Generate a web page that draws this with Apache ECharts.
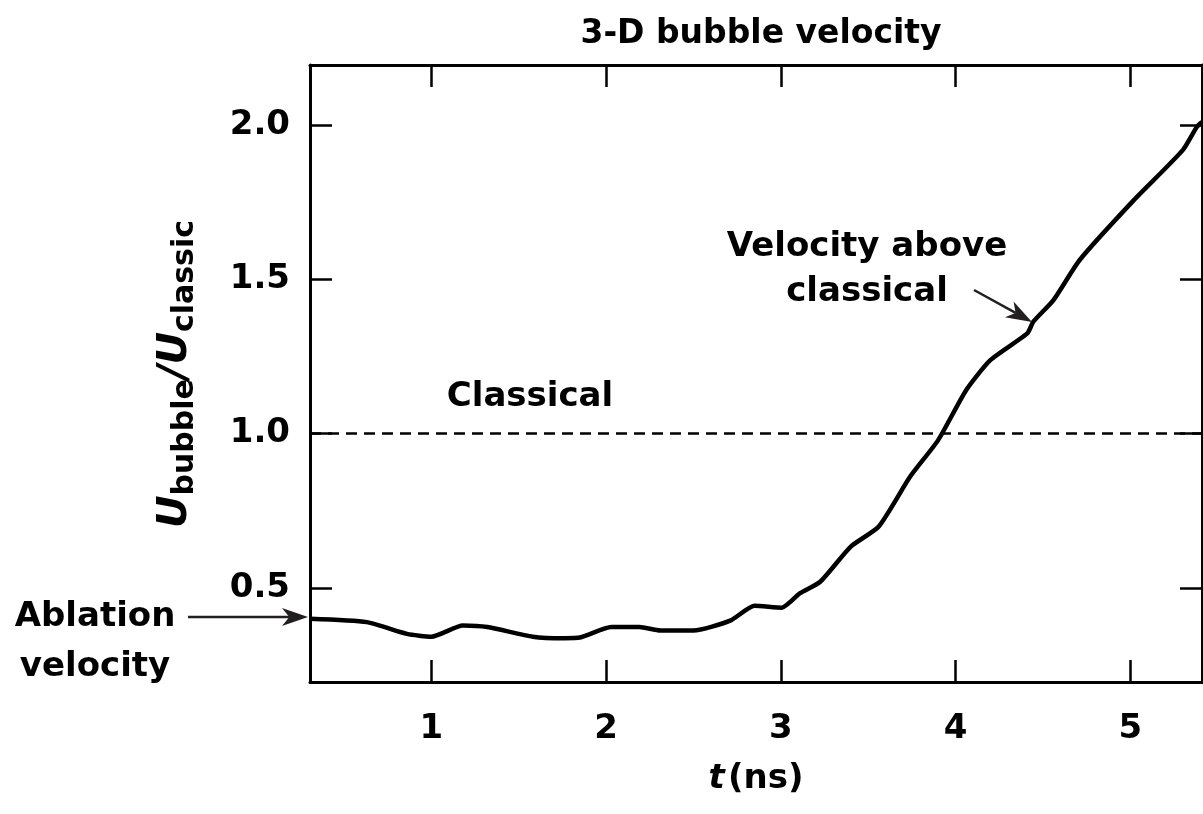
<!DOCTYPE html>
<html>
<head>
<meta charset="utf-8">
<script src="https://cdn.jsdelivr.net/npm/echarts@6/dist/echarts.min.js"></script>
<style>html,body{margin:0;padding:0;background:#fff}#c{width:1203px;height:814px}</style>
</head>
<body>
<div id="c"></div>
<script>
// time (ns)
var tValues = [0.305, 0.63, 0.86, 1.0, 1.18, 1.32, 1.58, 1.76, 1.85, 2.03, 2.19, 2.31, 2.50, 2.71, 2.85, 3.005, 3.11, 3.225, 3.40, 3.56, 3.74, 3.90, 4.06, 4.20, 4.41, 4.445, 4.56, 4.71, 5.02, 5.30, 5.38, 5.41];
// U_bubble / U_classic
var velocityRatio = [0.40, 0.389, 0.351, 0.342, 0.378, 0.373, 0.342, 0.337, 0.339, 0.373, 0.373, 0.362, 0.362, 0.394, 0.442, 0.436, 0.483, 0.52, 0.634, 0.699, 0.861, 0.979, 1.141, 1.239, 1.325, 1.363, 1.433, 1.563, 1.757, 1.919, 1.994, 2.01];
var classicalLevel = 1.0;
var xTicks = [1, 2, 3, 4, 5];
var yTicks = [0.5, 1.0, 1.5, 2.0];
var xRange = [0.305, 5.41];
var yRange = [0.195, 2.195];

var FONT = '"DejaVu Sans", "Liberation Sans", Arial, sans-serif';
var seriesData = tValues.map(function (t, i) { return [t, velocityRatio[i]]; });

var chart = echarts.init(document.getElementById('c'), null, {renderer: 'canvas'});

var axisLine = {show: true, lineStyle: {color: '#000', width: 3}};
function tickCfg(vals) {
  return {show: true, inside: true, length: 22, customValues: vals, lineStyle: {color: '#000', width: 2.5}};
}

function arrow(x1, y1, x2, y2) {
  var ang = Math.atan2(y2 - y1, x2 - x1);
  var L = 26, W = 9;
  var bx = x2 - L * Math.cos(ang), by = y2 - L * Math.sin(ang);
  var px = -Math.sin(ang), py = Math.cos(ang);
  var notchX = x2 - L * 0.72 * Math.cos(ang), notchY = y2 - L * 0.72 * Math.sin(ang);
  return [
    {type: 'line', shape: {x1: x1, y1: y1, x2: notchX, y2: notchY}, style: {stroke: '#231f20', lineWidth: 2.5}},
    {type: 'polygon', shape: {points: [[x2, y2], [bx + W * px, by + W * py], [notchX, notchY], [bx - W * px, by - W * py]]}, style: {fill: '#231f20'}}
  ];
}

var option = {
  backgroundColor: '#fff',
  animation: false,
  title: {
    text: '3-D bubble velocity',
    left: 756, top: 13, textAlign: 'center',
    textStyle: {fontFamily: FONT, fontWeight: 'bold', fontSize: 33, color: '#000'}
  },
  grid: {left: 310, right: 1, top: 65, bottom: 132, containLabel: false},
  xAxis: [{
    type: 'value', position: 'bottom', min: xRange[0], max: xRange[1],
    axisLine: axisLine, axisTick: tickCfg(xTicks), splitLine: {show: false},
    axisLabel: {customValues: xTicks, margin: 30, color: '#000', fontFamily: FONT, fontWeight: 'bold', fontSize: 34},
    name: '{i|t} {n|(ns)}', nameLocation: 'middle', nameGap: 80,
    nameTextStyle: {rich: {
      i: {fontFamily: FONT, fontWeight: 'bold', fontStyle: 'italic', fontSize: 34, color: '#000'},
      n: {fontFamily: FONT, fontWeight: 'bold', fontSize: 34, color: '#000'}
    }}
  }, {
    type: 'value', position: 'top', min: xRange[0], max: xRange[1],
    axisLine: axisLine, axisTick: tickCfg(xTicks), axisLabel: {show: false}, splitLine: {show: false}
  }],
  yAxis: [{
    type: 'value', position: 'left', min: yRange[0], max: yRange[1],
    axisLine: axisLine, axisTick: tickCfg(yTicks), splitLine: {show: false},
    axisLabel: {customValues: yTicks, margin: 20, color: '#000', fontFamily: FONT, fontWeight: 'bold', fontSize: 34,
      formatter: function (v) { return v.toFixed(1); }}
  }, {
    type: 'value', position: 'right', min: yRange[0], max: yRange[1],
    axisLine: axisLine, axisTick: tickCfg(yTicks), axisLabel: {show: false}, splitLine: {show: false}
  }],
  series: [{
    type: 'line', data: seriesData, symbol: 'none', smooth: 0.2, clip: false,
    lineStyle: {color: '#000', width: 4.5},
    markLine: {
      silent: true, symbol: ['none', 'none'], label: {show: false},
      lineStyle: {color: '#000', width: 2.5, type: [11, 7]},
      data: [{yAxis: classicalLevel}]
    }
  }],
  graphic: [
    {type: 'text', x: 176, y: 374, rotation: Math.PI / 2,
      style: {
        text: '{u|U}{s|bubble}{u|/U}{s|classic}', align: 'center', verticalAlign: 'middle',
        rich: {
          u: {fontFamily: FONT, fontWeight: 'bold', fontStyle: 'italic', fontSize: 40, lineHeight: 48, fill: '#000'},
          s: {fontFamily: FONT, fontWeight: 'bold', fontSize: 30, lineHeight: 30, padding: [16, 0, 0, 0], verticalAlign: 'bottom', fill: '#000'}
        }
      }},
    {type: 'text', x: 530, y: 397, style: {text: 'Classical', align: 'center', verticalAlign: 'middle', fontFamily: FONT, fontWeight: 'bold', fontSize: 34, fill: '#000'}},
    {type: 'text', x: 867, y: 270, style: {text: 'Velocity above\nclassical', align: 'center', verticalAlign: 'middle', lineHeight: 45, fontFamily: FONT, fontWeight: 'bold', fontSize: 34, fill: '#000'}},
    {type: 'text', x: 95, y: 642, style: {text: 'Ablation\nvelocity', align: 'center', verticalAlign: 'middle', lineHeight: 50, fontFamily: FONT, fontWeight: 'bold', fontSize: 34, fill: '#000'}}
  ].concat(arrow(188, 617, 308, 617)).concat(arrow(974, 290, 1032, 322))
};
chart.setOption(option);
</script>
</body>
</html>
